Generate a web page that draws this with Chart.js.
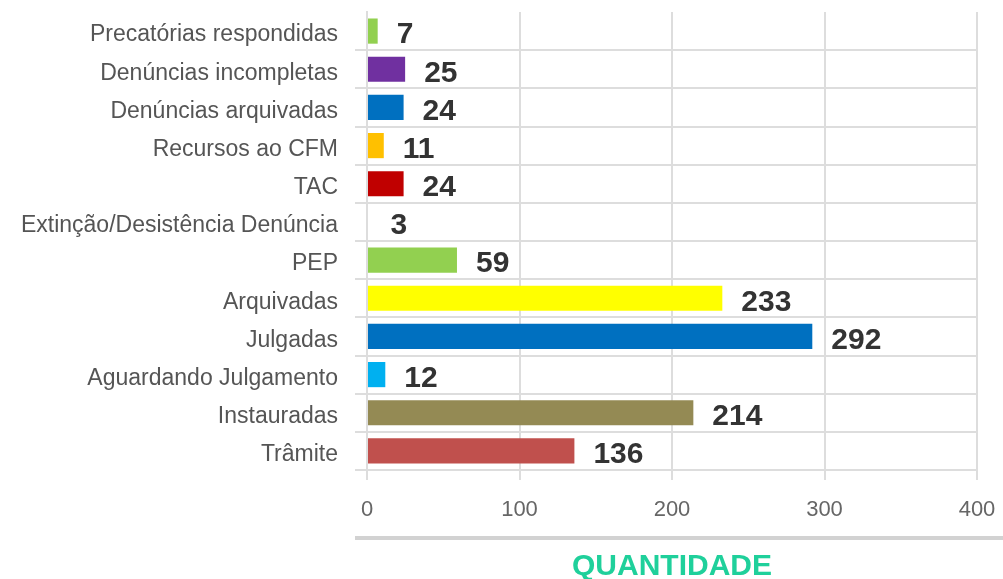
<!DOCTYPE html>
<html>
<head>
<meta charset="utf-8">
<script src="https://cdn.jsdelivr.net/npm/chart.js@4/dist/chart.umd.min.js"></script>
<style>
  html, body { margin: 0; padding: 0; background: #fff; }
  #wrap { width: 1003px; height: 579px; position: relative; }
</style>
</head>
<body>
<div id="wrap"><canvas id="c" width="1003" height="579"></canvas></div>
<script>
const categories = [
  "Precatórias respondidas",
  "Denúncias incompletas",
  "Denúncias arquivadas",
  "Recursos ao CFM",
  "TAC",
  "Extinção/Desistência Denúncia",
  "PEP",
  "Arquivadas",
  "Julgadas",
  "Aguardando Julgamento",
  "Instauradas",
  "Trâmite"
];
const values = [7, 25, 24, 11, 24, 3, 59, 233, 292, 12, 214, 136];
const barColors = [
  "#92d050", "#7030a0", "#0070c0", "#ffc000", "#c00000", "#ffffff",
  "#92d050", "#ffff00", "#0070c0", "#00b0f0", "#948a54", "#c0504d"
];
const xTicks = [0, 100, 200, 300, 400];
const axisTitle = "QUANTIDADE";

const valueLabels = {
  id: "valueLabels",
  afterDatasetsDraw(chart) {
    const ctx = chart.ctx;
    const meta = chart.getDatasetMeta(0);
    ctx.save();
    ctx.font = "bold 30px 'Liberation Sans', Arial, sans-serif";
    ctx.fillStyle = "#333333";
    ctx.textAlign = "left";
    ctx.textBaseline = "middle";
    meta.data.forEach((bar, i) => {
      ctx.fillText(String(values[i]), bar.x + 19, bar.y + 4);
    });
    ctx.restore();
  }
};

const titleRule = {
  id: "titleRule",
  afterDraw(chart) {
    const ctx = chart.ctx;
    const ys = chart.scales.y;
    const xs = chart.scales.x;
    ctx.save();
    ctx.strokeStyle = "#d2d2d2";
    ctx.lineWidth = 4;
    ctx.beginPath();
    const yy = xs.bottom - 41;
    ctx.moveTo(ys.right - 12, yy);
    ctx.lineTo(chart.width, yy);
    ctx.stroke();
    ctx.restore();
  }
};

new Chart(document.getElementById("c"), {
  type: "bar",
  data: {
    labels: categories,
    datasets: [{
      data: values,
      backgroundColor: barColors,
      borderWidth: 0,
      barPercentage: 0.66,
      categoryPercentage: 1.0
    }]
  },
  options: {
    indexAxis: "y",
    responsive: false,
    animation: false,
    layout: { padding: { top: 12, right: 26, bottom: 0, left: 0 } },
    plugins: {
      legend: { display: false },
      tooltip: { enabled: false }
    },
    scales: {
      x: {
        min: 0,
        max: 400,
        afterBuildTicks(scale) { scale.ticks = xTicks.map(v => ({ value: v })); },
        afterFit(scale) {
          scale.height = 109;
          scale.paddingLeft = 0; scale.paddingRight = 0;
          scale.paddingTop = 0; scale.paddingBottom = 0;
        },
        grid: { color: "#dddddd", lineWidth: 2, tickLength: 10, drawTicks: true },
        border: { display: false },
        ticks: {
          color: "#666666",
          font: { family: "'Liberation Sans', Arial, sans-serif", size: 22 },
          padding: 17,
          maxRotation: 0
        },
        title: {
          display: true,
          text: axisTitle,
          color: "#1fd09b",
          font: { family: "'Liberation Sans', Arial, sans-serif", size: 30, weight: "bold", lineHeight: 1.0 },
          padding: { top: 0, bottom: -3 }
        }
      },
      y: {
        afterFit(scale) {
          scale.width = 367;
          scale.paddingLeft = 0; scale.paddingRight = 0;
          scale.paddingTop = 0; scale.paddingBottom = 0;
        },
        grid: {
          offset: true,
          color: (c) => (c.index === 0 ? "rgba(0,0,0,0)" : "#dddddd"),
          lineWidth: 2,
          tickLength: 12
        },
        border: { display: true, color: "#dddddd", width: 2 },
        ticks: {
          color: "#555555",
          font: { family: "'Liberation Sans', Arial, sans-serif", size: 23 },
          padding: 17,
          labelOffset: 4
        }
      }
    }
  },
  plugins: [valueLabels, titleRule]
});
</script>
</body>
</html>
